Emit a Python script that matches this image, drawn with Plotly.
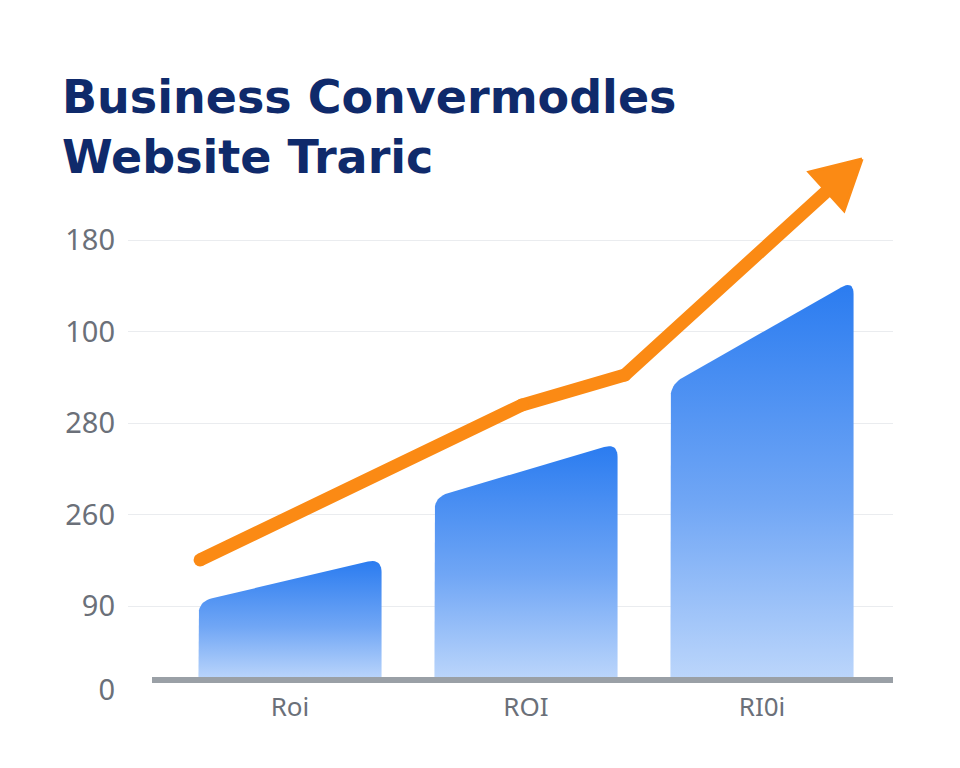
import math
import plotly.graph_objects as go

# ---------------- data ----------------
categories = ["Roi", "ROI", "RI0i"]
cat_pos = [0, 1, 2]
bar_top_left = [1.05, 2.19, 3.42]
bar_top_right = [1.52, 2.78, 4.56]
bar_base = 0.19

ytick_pos = [0.08, 1, 2, 3, 4, 5]
ytick_text = ["0", "90", "260", "280", "100", "180"]
grid_pos = [1, 2, 3, 4, 5]

trend_x = [-0.381, 0.983, 1.419, 2.424]
trend_y = [1.503, 3.197, 3.525, 5.885]

title_lines = ["Business Convermodles", "Website Traric"]

# ---------------- layout constants ----------------
W, H = 960, 768
ML, MR, MT, MB = 128, 67, 150, 38
XR = [-0.6864, 2.5551]
YR = [-0.3552, 5.9836]
SX = (W - ML - MR) / (XR[1] - XR[0])
SY = (H - MT - MB) / (YR[1] - YR[0])
BAR_HALF = 0.388
RADIUS = 14  # px
HEAD_LEN, HEAD_HALF = 48, 26  # px
LINE_W = 13

ORANGE = "#fb8a14"
GRAY_TXT = "#6b7079"


def rounded_bar(xc, yl, yr, base):
    x0, x1 = xc - BAR_HALF, xc + BAR_HALF
    ry = RADIUS / SY
    dxp, dyp = (x1 - x0) * SX, (yr - yl) * SY
    L = math.hypot(dxp, dyp)
    ux, uy = dxp / L, dyp / L
    xs, ys = [x0], [base]

    def quad(p0, c, p1, n=10):
        for i in range(n + 1):
            t = i / n
            xs.append((1 - t) ** 2 * p0[0] + 2 * (1 - t) * t * c[0] + t ** 2 * p1[0])
            ys.append((1 - t) ** 2 * p0[1] + 2 * (1 - t) * t * c[1] + t ** 2 * p1[1])

    quad((x0, yl - ry), (x0, yl), (x0 + ux * RADIUS / SX, yl + uy * RADIUS / SY))
    quad((x1 - ux * RADIUS / SX, yr - uy * RADIUS / SY), (x1, yr), (x1, yr - ry))
    xs += [x1, x0]
    ys += [base, base]
    return xs, ys


fig = go.Figure()

for xc, yl, yr in zip(cat_pos, bar_top_left, bar_top_right):
    bx, by = rounded_bar(xc, yl, yr, bar_base)
    fig.add_trace(go.Scatter(
        x=bx, y=by, mode="lines", fill="toself",
        line=dict(width=0, color="rgba(0,0,0,0)"),
        fillgradient=dict(type="vertical",
                          colorscale=[[0, "#bcd6fb"], [0.45, "#70a6f5"], [1, "#2b7cf0"]]),
        hoverinfo="skip", showlegend=False,
    ))

# baseline
fig.add_trace(go.Scatter(
    x=[XR[0] + 24 / SX, XR[1]], y=[bar_base, bar_base], mode="lines",
    line=dict(color="#9aa0a6", width=6), hoverinfo="skip", showlegend=False,
))

# trend arrow: shaft ends at the arrowhead base
tx, ty = trend_x[-1], trend_y[-1]
dxp = (trend_x[-1] - trend_x[-2]) * SX
dyp = (trend_y[-1] - trend_y[-2]) * SY
L = math.hypot(dxp, dyp)
ux, uy = dxp / L, dyp / L
bcx, bcy = tx - ux * HEAD_LEN / SX, ty - uy * HEAD_LEN / SY
px_, py_ = -uy, ux
head_x = [tx, bcx + px_ * HEAD_HALF / SX, bcx - px_ * HEAD_HALF / SX, tx]
head_y = [ty, bcy + py_ * HEAD_HALF / SY, bcy - py_ * HEAD_HALF / SY, ty]
shaft_x = trend_x[:-1] + [bcx + ux * 4 / SX]
shaft_y = trend_y[:-1] + [bcy + uy * 4 / SY]

fig.add_trace(go.Scatter(
    x=shaft_x, y=shaft_y, mode="lines+markers",
    line=dict(color=ORANGE, width=LINE_W),
    marker=dict(size=[LINE_W, LINE_W, LINE_W, 0], color=ORANGE, opacity=1,
                line=dict(width=0)),
    hoverinfo="skip", showlegend=False,
))
fig.add_trace(go.Scatter(
    x=head_x, y=head_y, mode="lines", fill="toself", fillcolor=ORANGE,
    line=dict(color=ORANGE, width=3),
    hoverinfo="skip", showlegend=False,
))

fig.update_layout(
    width=W, height=H,
    margin=dict(l=ML, r=MR, t=MT, b=MB),
    paper_bgcolor="white", plot_bgcolor="white",
    title=dict(
        text="<br>".join(title_lines),
        font=dict(family="DejaVu Sans", size=46, color="#0f2a6b", weight="bold"),
        x=62 / W, xref="container", xanchor="left",
        y=1 - 113 / H, yref="container", yanchor="top",
    ),
    xaxis=dict(
        range=XR, tickvals=cat_pos, ticktext=categories,
        showgrid=False, zeroline=False, showline=False, ticks="",
        anchor="free", position=(H - MB - 680) / (H - MT - MB),
        ticklabelstandoff=9,
        tickfont=dict(family="Noto Sans", size=26, color=GRAY_TXT),
    ),
    yaxis=dict(
        range=YR, tickvals=ytick_pos, ticktext=ytick_text,
        showgrid=False, zeroline=False, showline=False, ticks="",
        ticklabelstandoff=12,
        tickfont=dict(family="Noto Sans", size=29, color=GRAY_TXT),
        minor=dict(tickmode="array", tickvals=grid_pos, showgrid=True,
                   gridcolor="#eaecef", gridwidth=1, ticks=""),
    ),
)

fig.write_html("out.html")
